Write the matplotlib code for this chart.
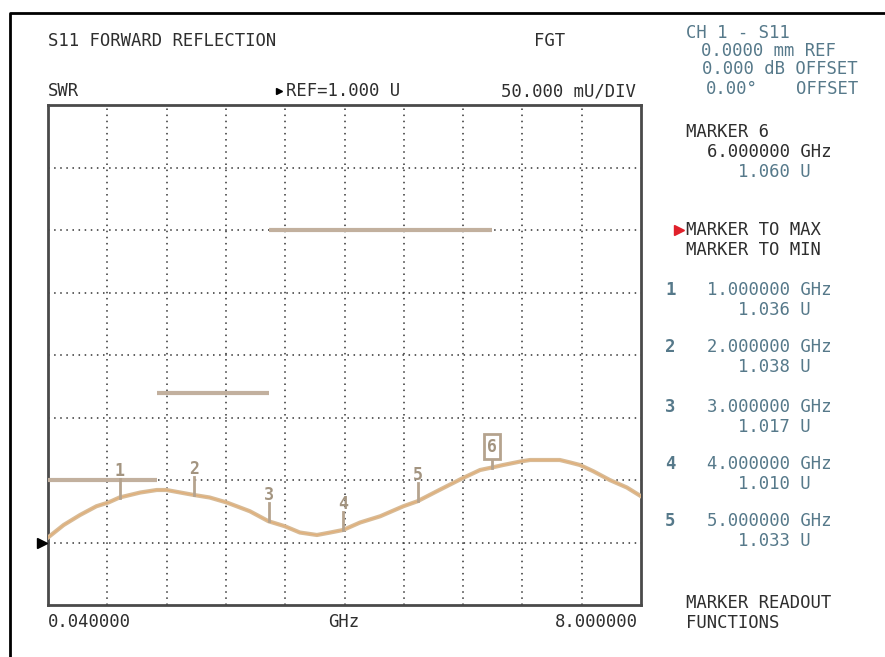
import numpy as np
import matplotlib.pyplot as plt
from matplotlib.lines import Line2D

# S11 SWR sweep, 0.04 - 8 GHz
freq = [0.04, 0.25, 0.47, 0.69, 0.85, 1.0, 1.28, 1.5, 1.63, 2.0, 2.21, 2.44,
        2.75, 3.0, 3.22, 3.42, 3.65, 3.83, 4.0, 4.23, 4.5, 4.81, 5.0, 5.26,
        5.59, 5.84, 6.0, 6.15, 6.4, 6.51, 6.71, 6.91, 7.05, 7.18, 7.36, 7.58,
        7.81, 8.0]
swr = [1.004, 1.014, 1.022, 1.029, 1.032, 1.036, 1.040, 1.042, 1.042, 1.038,
       1.036, 1.032, 1.025, 1.017, 1.013, 1.008, 1.006, 1.008, 1.010, 1.016,
       1.021, 1.029, 1.033, 1.041, 1.051, 1.058, 1.060, 1.062, 1.065, 1.066,
       1.066, 1.066, 1.064, 1.062, 1.057, 1.050, 1.044, 1.037]

# limit lines
lim_start = [0.04, 1.5, 3.0]
lim_stop = [1.5, 3.0, 6.0]
lim_level = [1.05, 1.12, 1.25]

# markers
mk_num = ['1', '2', '3', '4', '5', '6']
mk_freq = [1.0, 2.0, 3.0, 4.0, 5.0, 6.0]
mk_val = [1.036, 1.038, 1.017, 1.010, 1.033, 1.060]

ref_val = 1.0
per_div = 0.05
f_start, f_stop = 0.04, 8.0

W, H = 885, 657
fig = plt.figure(figsize=(W / 100, H / 100), dpi=100)
mono = ['DejaVu Sans Mono', 'DejaVu Sans']
blue = '#56798a'
dark = '#2e2e2e'
mk_col = '#b5a38e'


def ftext(x, y, s, color=dark, ha='left', size=12.4, **kw):
    fig.text(x / W, 1 - y / H, s, color=color, ha=ha, va='center',
             fontsize=size, family=mono, **kw)


# outer frame
fig.add_artist(Line2D([10 / W, 10 / W, 1.01], [-0.01, 1 - 13 / H, 1 - 13 / H],
                      color='black', lw=2, transform=fig.transFigure))

ax = fig.add_axes([48 / W, (H - 605) / H, 593 / W, 500 / H])
ax.set_xlim(f_start, f_stop)
ax.set_ylim(ref_val - per_div, ref_val + 7 * per_div)
ax.set_xticks(np.linspace(f_start, f_stop, 11)[1:-1])
ax.set_yticks([ref_val + per_div * k for k in range(0, 7)])
ax.tick_params(length=0, labelbottom=False, labelleft=False)
ax.grid(True, color='#333333', ls=(0, (1, 3)), lw=1.1)
for sp in ax.spines.values():
    sp.set_color('#4a4a4a')
    sp.set_linewidth(2)

for a, b, lv in zip(lim_start, lim_stop, lim_level):
    ax.plot([a, b], [lv, lv], color='#c2b09e', lw=3, solid_capstyle='butt',
            zorder=3)

ax.plot(freq, swr, color='#d8bb96', lw=3, zorder=4, solid_joinstyle='round')
ax.plot(freq, swr, color='#eda35a', lw=0.8, alpha=0.55, zorder=5)

for n, f, v in zip(mk_num, mk_freq, mk_val):
    if n == '6':
        ax.plot([f, f], [v, v + 0.009], color=mk_col, lw=2, zorder=5)
        ax.text(f, v + 0.0168, n, ha='center', va='center', color='#a39480',
                fontsize=12, family=mono, fontweight='bold', zorder=6,
                bbox=dict(boxstyle='square,pad=0.2', fc='white',
                          ec=mk_col, lw=2))
    else:
        ax.plot([f, f], [v, v + 0.0145], color=mk_col, lw=2, zorder=5)
        ax.text(f, v + 0.021, n, ha='center', va='center', color='#a39480',
                fontsize=12, family=mono, fontweight='bold', zorder=6)

# reference position arrow
fig.add_artist(Line2D([42 / W], [1 - 543 / H], marker='>', ms=7,
                      color='black', transform=fig.transFigure))

# header texts
ftext(48, 41, 'S11 FORWARD REFLECTION')
ftext(550, 41, 'FGT', ha='center')
ftext(48, 91, 'SWR')
fig.add_artist(Line2D([279 / W], [1 - 91 / H], marker='>', ms=5,
                      color='black', transform=fig.transFigure))
ftext(286, 91, 'REF=1.000 U')
ftext(636, 91, '50.000 mU/DIV', ha='right')

# bottom axis texts
ftext(48, 622, '0.040000')
ftext(344, 622, 'GHz', ha='center')
ftext(638, 622, '8.000000', ha='right')

# right panel
ftext(686, 33, 'CH 1 - S11', color=blue)
ftext(836, 51, '0.0000 mm REF', color=blue, ha='right')
ftext(858, 69, '0.000 dB OFFSET', color=blue, ha='right')
ftext(706, 89, '0.00°', color=blue)
ftext(858, 89, 'OFFSET', color=blue, ha='right')

ftext(686, 132, 'MARKER 6')
ftext(707, 152, '6.000000 GHz')
ftext(738, 172, '1.060 U', color=blue)

fig.add_artist(Line2D([679 / W], [1 - 230 / H], marker='>', ms=7,
                      color='#e0202a', transform=fig.transFigure))
ftext(686, 230, 'MARKER TO MAX')
ftext(686, 250, 'MARKER TO MIN')

row_y = [290, 347, 407, 464, 521]
for n, f, v, y in zip(mk_num, mk_freq, mk_val, row_y):
    ftext(665, y, n, color=blue, fontweight='bold')
    ftext(707, y, f'{f:.6f} GHz', color=blue)
    ftext(738, y + 20, f'{v:.3f} U', color=blue)

ftext(686, 603, 'MARKER READOUT')
ftext(686, 623, 'FUNCTIONS')

fig.savefig('out.png', dpi=100, facecolor='white')
